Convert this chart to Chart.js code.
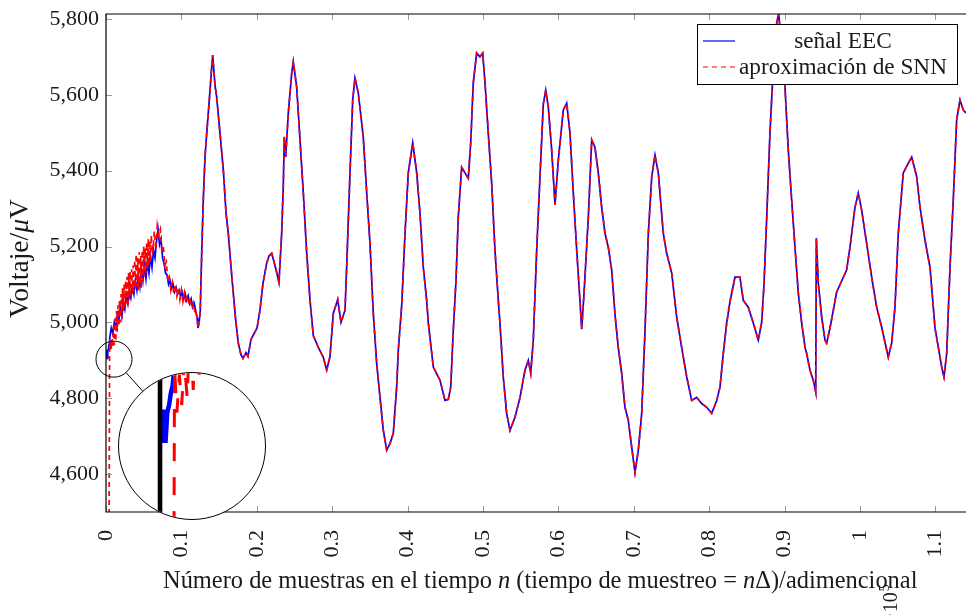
<!DOCTYPE html>
<html><head><meta charset="utf-8">
<script src="https://cdn.jsdelivr.net/npm/chart.js@4.4.0/dist/chart.umd.min.js"></script>
<style>
html,body{margin:0;padding:0;background:#fff;overflow:hidden;}
#wrap{position:relative;width:966px;height:615px;overflow:hidden;}
#main{position:absolute;left:0;top:0;}
#insetBox{position:absolute;left:118px;top:372px;width:146px;height:146px;border:1.2px solid #000;border-radius:50%;overflow:hidden;background:#fff;}
#inset{display:block;}
</style></head>
<body>
<div id="wrap"><canvas id="main" width="966" height="615"></canvas>
<div id="insetBox"><canvas id="inset" width="146" height="146"></canvas></div></div>
<script>
// ---- tick labels ----
const xTickValues = [0,0.1,0.2,0.3,0.4,0.5,0.6,0.7,0.8,0.9,1,1.1];
const xTickLabels = ['0','0.1','0.2','0.3','0.4','0.5','0.6','0.7','0.8','0.9','1','1.1'];
const yTickValues = [4600,4800,5000,5200,5400,5600,5800];
const yTickLabels = ['4,600','4,800','5,000','5,200','5,400','5,600','5,800'];
const seriesNames = ['señal EEC','aproximación de SNN'];

// ---- sample positions (units of 10^5 samples) and EEC signal (µV) ----
const sampleX = [
 0.0005,0.0012,0.0018,0.0024,0.0030,0.0036,0.0042,0.0050,0.007,0.009,
 0.011,0.013,0.015,0.017,0.019,0.021,0.023,0.025,0.027,0.029,
 0.031,0.033,0.035,0.037,0.039,0.041,0.043,0.045,0.047,0.049,
 0.051,0.053,0.055,0.057,0.059,0.061,0.063,0.065,0.067,0.069,
 0.071,0.073,0.075,0.077,0.079,0.081,0.083,0.085,0.087,0.089,
 0.091,0.093,0.095,0.097,0.099,0.101,0.103,0.105,0.107,0.109,
 0.111,0.113,0.115,0.117,0.119,0.121,0.122,0.1235,0.125,
 0.1269,0.1290,0.1313,0.1336,0.1370,0.1402,0.1415,0.1432,0.1446,0.1468,
 0.1512,0.1556,0.1592,0.1622,0.1658,0.1688,0.1720,0.1755,0.1790,0.1817,
 0.1857,0.1883,0.1923,0.1963,0.2003,0.2042,0.2082,0.2131,0.2162,0.2198,
 0.2241,0.2294,0.2330,0.2351,0.2365,0.2383,0.2418,0.2463,0.2484,0.2529,
 0.2573,0.2617,0.2662,0.2706,0.2749,0.2816,0.2882,0.2927,0.2971,0.3015,
 0.3073,0.3117,0.3170,0.3192,0.3236,0.3272,0.3302,0.3346,0.3412,0.3458,
 0.3501,0.3545,0.3590,0.3634,0.3678,0.3723,0.3767,0.3810,0.3855,0.3877,
 0.3922,0.3966,0.4009,0.4068,0.4121,0.4164,0.4208,0.4253,0.4275,0.4341,
 0.4430,0.4496,0.4540,0.4572,0.4606,0.4642,0.4672,0.4717,0.4761,0.4805,
 0.4837,0.4871,0.4916,0.4960,0.4996,0.5027,0.5070,0.5115,0.5159,0.5203,
 0.5225,0.5269,0.5314,0.5358,0.5424,0.5491,0.5557,0.5601,0.5633,0.5667,
 0.5712,0.5756,0.5800,0.5832,0.5866,0.5911,0.5955,0.5999,0.6065,0.6110,
 0.6154,0.6198,0.6243,0.6286,0.6309,0.6340,0.6397,0.6442,0.6485,0.6529,
 0.6574,0.6618,0.6662,0.6707,0.6751,0.6794,0.6839,0.6883,0.6927,0.6972,
 0.7016,0.7060,0.7105,0.7149,0.7193,0.7238,0.7281,0.7325,0.7391,0.7436,
 0.7503,0.7569,0.7635,0.7702,0.7768,0.7834,0.7900,0.7967,0.8033,0.8100,
 0.8143,0.8187,0.8232,0.8276,0.8342,0.8408,0.8452,0.8518,0.8585,0.8651,
 0.8696,0.8727,0.8763,0.8806,0.8850,0.8886,0.8922,0.8961,0.9005,0.9049,
 0.9094,0.9138,0.9182,0.9227,0.9271,0.9293,0.9337,0.9381,0.9413,0.9421,
 0.9447,0.9492,0.9536,0.9558,0.9602,0.9646,0.9691,0.9779,0.9823,0.9867,
 0.9934,0.9977,1.0022,1.0088,1.0155,1.0221,1.0288,1.0375,1.0420,1.0464,
 1.0508,1.0574,1.0641,1.0686,1.0752,1.0796,1.0862,1.0928,1.0995,1.1084,
 1.1114,1.1150,1.1194,1.1237,1.1282,1.1326,1.1370,1.1406,1.1450
];
const eecValues = [
 4905,4927,4905,4925,4930,4938,4943,4960,4985,4970,
 5000,4985,5020,5005,5040,5015,5055,5035,5070,5050,
 5085,5065,5095,5075,5110,5085,5125,5095,5140,5110,
 5150,5115,5160,5130,5175,5145,5190,5170,5215,5245,
 5205,5220,5170,5155,5130,5125,5100,5110,5090,5100,
 5080,5092,5075,5085,5068,5080,5062,5075,5058,5070,
 5050,5062,5040,5050,5030,5010,4985,5000,5030,
 5180,5322,5436,5499,5586,5673,5705,5660,5625,5594,
 5499,5402,5288,5235,5146,5077,5006,4945,4915,4905,
 4920,4910,4955,4970,4985,5032,5103,5156,5175,5182,
 5150,5106,5235,5357,5489,5436,5552,5657,5687,5621,
 5481,5341,5182,5058,4965,4934,4908,4874,4910,5024,
 5060,5000,5032,5146,5394,5586,5644,5605,5489,5341,
 5209,5024,4892,4802,4715,4663,4681,4707,4829,4927,
 5045,5235,5394,5473,5394,5288,5146,5058,4998,4882,
 4847,4794,4797,4829,4979,5111,5277,5409,5394,5380,
 5473,5631,5710,5700,5710,5631,5499,5367,5190,5058,
 4998,4856,4760,4715,4750,4802,4874,4900,4866,4953,
 5190,5384,5576,5612,5568,5454,5310,5428,5560,5578,
 5499,5341,5190,5058,4982,5077,5277,5481,5462,5394,
 5304,5235,5198,5138,5020,4934,4866,4776,4742,4671,
 4604,4663,4760,4979,5235,5384,5441,5394,5235,5182,
 5130,5014,4934,4856,4794,4802,4786,4776,4760,4794,
 4829,4918,4998,5055,5119,5119,5058,5040,4998,4953,
 5000,5100,5277,5499,5673,5779,5815,5718,5621,5454,
 5322,5198,5077,4998,4934,4918,4874,4847,4816,5222,
 5103,5014,4953,4945,4985,5032,5080,5119,5138,5198,
 5304,5341,5296,5209,5119,5040,4987,4908,4945,5040,
 5235,5394,5420,5436,5384,5304,5217,5146,4985,4882,
 4856,4918,5146,5322,5533,5586,5560,5552,5540
];

// ---- SNN approximation: its own (noisier) onset, then it follows the EEC trace ----
const snnOnsetX = [
 0.0040,0.0048,0.0056,0.0064,0.0072,0.0080,0.0090,0.0100,0.0110,0.0120,
 0.0130,0.0140,0.0150,0.0160,0.0170,0.0180,0.0190,0.0200,0.0210,0.0220,
 0.0230,0.0240,0.0250,0.0260,0.0270,0.0280,0.0290,0.0300,0.0310,0.0320,
 0.0330,0.0340,0.0350,0.0360,0.0370,0.0380,0.0390,0.0400,0.0410,0.0420,
 0.0430,0.0440,0.0450,0.0460,0.0470,0.0480,0.0490,0.0500,0.0510,0.0520,
 0.0530,0.0540,0.0550,0.0560,0.0570,0.0580,0.0590,0.0600,0.0620,0.0640,
 0.0660,0.0680,0.0700,0.0720,0.0740,0.0760,0.0780,0.0800,0.0820,0.0840,
 0.0860,0.0880,0.0900,0.0920,0.0940,0.0960,0.0980,0.1000,0.1020,0.1040,
 0.1060,0.1080,0.1100,0.1120,0.1140,0.1160,0.1180
];
const snnOnsetValues = [
 4400,4955,4925,4950,4930,4960,4935,4990,4940,5010,
 4950,5030,4975,5045,4990,5060,5000,5075,5010,5090,
 5030,5100,5035,5110,5050,5120,5040,5130,5060,5135,
 5070,5140,5075,5150,5080,5165,5090,5180,5095,5170,
 5085,5185,5100,5175,5090,5190,5110,5200,5120,5195,
 5130,5210,5140,5220,5150,5215,5160,5230,5180,5240,
 5190,5255,5230,5245,5190,5200,5150,5160,5110,5120,
 5085,5105,5075,5100,5070,5090,5060,5085,5055,5078,
 5050,5072,5045,5065,5035,5050,5025
];

// ---- zoom (spy) location ----
const spyAt = {x: 0.0106, y: 4903};

// build point lists
const nE = Math.min(sampleX.length, eecValues.length);
const eecPts = [];
for (let i = 0; i < nE; i++) eecPts.push({x: sampleX[i], y: eecValues[i]});
const snnPts = [];
const nS = Math.min(snnOnsetX.length, snnOnsetValues.length);
for (let i = 0; i < nS; i++) snnPts.push({x: snnOnsetX[i], y: snnOnsetValues[i]});
const lastOnset = snnOnsetX[nS - 1];
eecPts.forEach(p => { if (p.x > lastOnset) snnPts.push({x: p.x, y: p.y}); });

const SERIF = "'Liberation Serif', 'DejaVu Serif', serif";

function drawSegments(ctx, segs, size, x, y) {
  let cx = x;
  segs.forEach(s => {
    ctx.font = (s.i ? 'italic ' : '') + size + 'px ' + SERIF;
    ctx.fillText(s.t, cx, y);
    cx += ctx.measureText(s.t).width;
  });
}
function segWidth(ctx, segs, size) {
  let w = 0;
  segs.forEach(s => { ctx.font = (s.i ? 'italic ' : '') + size + 'px ' + SERIF; w += ctx.measureText(s.t).width; });
  return w;
}

const BIG = {cx: 192.2, cy: 446.2, r: 73.6};

const framePlugin = {
  id: 'frame',
  afterDraw(chart) {
    const {ctx, chartArea: a} = chart;
    const xs = chart.scales.x, ys = chart.scales.y;
    ctx.save();
    // inner tick marks
    ctx.strokeStyle = '#9c9c9c'; ctx.lineWidth = 1;
    ctx.beginPath();
    xTickValues.forEach(v => {
      const px = Math.round(xs.getPixelForValue(v)) + 0.5;
      ctx.moveTo(px, a.bottom); ctx.lineTo(px, a.bottom - 6);
      ctx.moveTo(px, a.top); ctx.lineTo(px, a.top + 6);
    });
    yTickValues.forEach(v => {
      const py = Math.round(ys.getPixelForValue(v)) + 0.5;
      ctx.moveTo(a.left, py); ctx.lineTo(a.left + 6, py);
    });
    ctx.stroke();
    // frame
    ctx.strokeStyle = '#000'; ctx.lineWidth = 1.2;
    ctx.beginPath();
    ctx.moveTo(a.right + 3, a.top); ctx.lineTo(a.left, a.top);
    ctx.lineTo(a.left, a.bottom); ctx.lineTo(a.right + 3, a.bottom);
    ctx.stroke();

    // spy circle + connector
    const sx = xs.getPixelForValue(spyAt.x), sy = ys.getPixelForValue(spyAt.y), sr = 18;
    ctx.lineWidth = 1; ctx.strokeStyle = '#000';
    ctx.beginPath(); ctx.arc(sx, sy, sr, 0, Math.PI * 2); ctx.stroke();
    const dx = BIG.cx - sx, dy = BIG.cy - sy, d = Math.hypot(dx, dy);
    const ux = dx / d, uy = dy / d;
    ctx.beginPath();
    ctx.moveTo(sx + ux * sr, sy + uy * sr);
    ctx.lineTo(BIG.cx - ux * BIG.r, BIG.cy - uy * BIG.r);
    ctx.stroke();

    // legend
    const lw = 260, lh = 60;
    const lx = a.right - 9 - lw, ly = a.top + 10;
    ctx.fillStyle = '#fff'; ctx.fillRect(lx, ly, lw, lh);
    ctx.strokeStyle = '#000'; ctx.lineWidth = 1;
    ctx.strokeRect(lx + 0.5, ly + 0.5, lw, lh);
    ctx.lineWidth = 1.2;
    ctx.strokeStyle = '#0000ff';
    ctx.beginPath(); ctx.moveTo(lx + 6, ly + 17); ctx.lineTo(lx + 38, ly + 17); ctx.stroke();
    ctx.strokeStyle = '#ff0000'; ctx.setLineDash([5, 4]);
    ctx.beginPath(); ctx.moveTo(lx + 6, ly + 43); ctx.lineTo(lx + 38, ly + 43); ctx.stroke();
    ctx.setLineDash([]);
    ctx.fillStyle = '#1a1a1a';
    const lsize = 20 * 208 / segWidth(ctx, [{t: seriesNames[1]}], 20);
    ctx.textAlign = 'center'; ctx.textBaseline = 'alphabetic';
    ctx.font = lsize + 'px ' + SERIF;
    ctx.fillText(seriesNames[0], lx + 146, ly + 24);
    ctx.fillText(seriesNames[1], lx + 146, ly + 50);

    // x title
    ctx.textAlign = 'left';
    const xt = [{t: 'Número de muestras en el tiempo '}, {t: 'n', i: true}, {t: ' (tiempo de muestreo = '}, {t: 'n', i: true}, {t: 'Δ)/adimencional'}];
    const xsize = 22 * 755 / segWidth(ctx, xt, 22);
    drawSegments(ctx, xt, xsize, 163, 588);

    // y title (rotated)
    const yt = [{t: 'Voltaje/'}, {t: 'μ', i: true}, {t: 'V'}];
    const ysize = 22 * 119 / segWidth(ctx, yt, 22);
    ctx.save();
    ctx.translate(28, 318); ctx.rotate(-Math.PI / 2);
    drawSegments(ctx, yt, ysize, 0, 0);
    ctx.restore();

    // exponent label (partly outside the picture)
    ctx.save();
    ctx.translate(897, 619); ctx.rotate(-Math.PI / 2);
    ctx.font = '20px ' + SERIF;
    ctx.fillText('·10', 0, 0);
    const w10 = ctx.measureText('·10').width;
    ctx.font = '14px ' + SERIF;
    ctx.fillText('5', w10 + 1, -8);
    ctx.restore();

    ctx.restore();
  }
};

const tickFont = {family: SERIF, size: 22};
const mainChart = new Chart(document.getElementById('main'), {
  type: 'line',
  data: {datasets: [
    {label: seriesNames[0], data: eecPts, borderColor: '#0000ff', borderWidth: 1.7, pointRadius: 0, tension: 0, order: 1},
    {label: seriesNames[1], data: snnPts, borderColor: '#ff0000', borderWidth: 1.7, borderDash: [5, 4], pointRadius: 0, tension: 0, order: 0}
  ]},
  options: {
    responsive: false, animation: false, devicePixelRatio: 1,
    layout: {padding: {left: 0, right: 0, top: 14, bottom: 0}},
    plugins: {legend: {display: false}, tooltip: {enabled: false}},
    scales: {
      x: {
        type: 'linear', min: 0, max: 1.1406,
        grid: {display: false, drawTicks: false}, border: {display: false},
        afterBuildTicks: s => { s.ticks = xTickValues.map(v => ({value: v})); },
        afterFit: s => { s.height = 103; s.paddingLeft = 0; s.paddingRight = 0; },
        ticks: {autoSkip: false, minRotation: 90, maxRotation: 90, padding: 18, font: tickFont, color: '#1a1a1a',
          callback: (v, i) => xTickLabels[i]}
      },
      y: {
        type: 'linear', min: 4500, max: 5813,
        grid: {display: false, drawTicks: false}, border: {display: false},
        afterBuildTicks: s => { s.ticks = yTickValues.map(v => ({value: v})); },
        afterFit: s => { s.width = 106; s.paddingTop = 0; s.paddingBottom = 0; },
        ticks: {autoSkip: false, padding: 7, font: tickFont, color: '#1a1a1a',
          callback: (v, i) => yTickLabels[i]}
      }
    }
  },
  plugins: [framePlugin]
});

// ---- magnified inset (spy) ----
const mxs = mainChart.scales.x, mys = mainChart.scales.y;
const mag = 4;
const pxPerX = mxs.getPixelForValue(1) - mxs.getPixelForValue(0);
const pxPerY = mys.getPixelForValue(5000) - mys.getPixelForValue(5200);
const halfX = 73 / mag / pxPerX, halfY = 73 / mag / (pxPerY / 200);
const axisPlugin = {
  id: 'insetAxis',
  afterDatasetsDraw(chart) {
    const {ctx, chartArea: a} = chart;
    const px = chart.scales.x.getPixelForValue(0);
    ctx.save();
    ctx.strokeStyle = '#000'; ctx.lineWidth = 4.6;
    ctx.beginPath(); ctx.moveTo(px, a.top - 5); ctx.lineTo(px, a.bottom + 5); ctx.stroke();
    ctx.restore();
  }
};
new Chart(document.getElementById('inset'), {
  type: 'line',
  data: {datasets: [
    {data: eecPts, borderColor: '#0000ff', borderWidth: 4.5, pointRadius: 0, tension: 0, order: 1},
    {data: snnPts, borderColor: '#ff0000', borderWidth: 3, borderDash: [18, 16], pointRadius: 0, tension: 0, order: 0}
  ]},
  options: {
    responsive: false, animation: false, devicePixelRatio: 1,
    layout: {padding: 0},
    plugins: {legend: {display: false}, tooltip: {enabled: false}},
    scales: {
      x: {type: 'linear', display: false, min: spyAt.x - halfX, max: spyAt.x + halfX},
      y: {type: 'linear', display: false, min: spyAt.y - halfY, max: spyAt.y + halfY}
    }
  },
  plugins: [axisPlugin]
});
</script>
</body></html>
